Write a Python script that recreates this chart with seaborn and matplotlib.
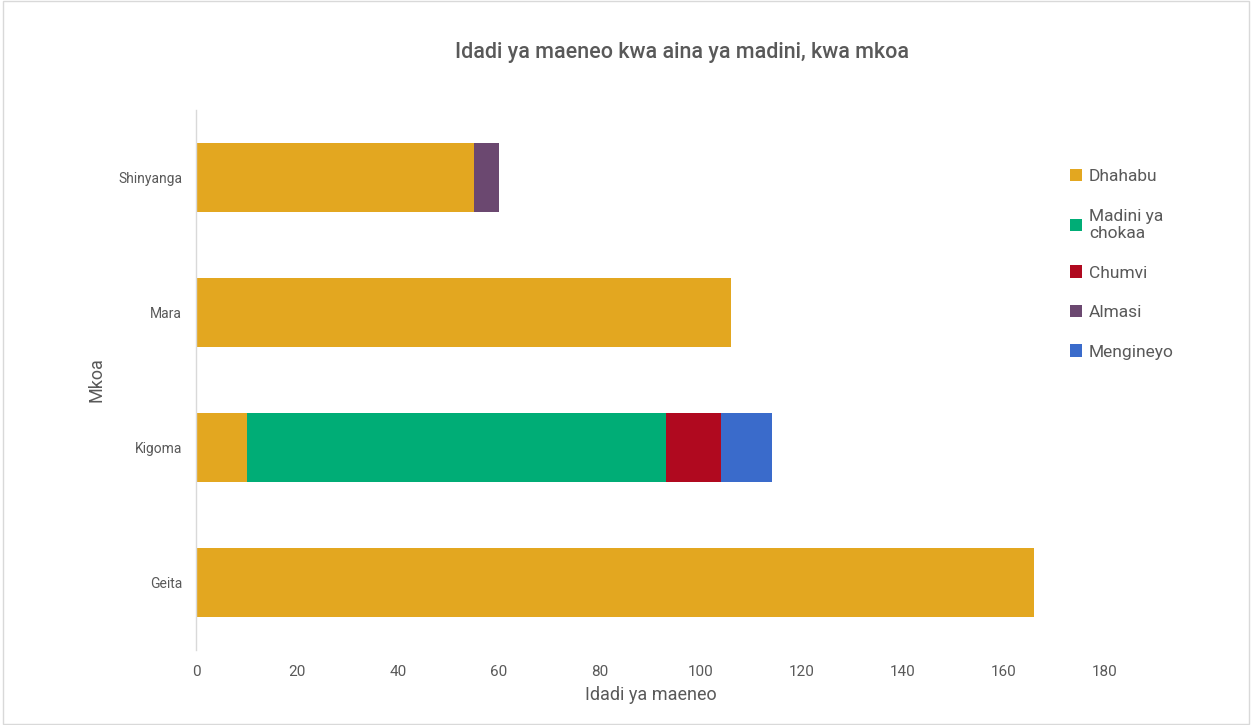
import matplotlib
matplotlib.use("Agg")
import matplotlib.pyplot as plt
import seaborn as sns
import pandas as pd
import numpy as np
from matplotlib.patches import Patch

regions = ["Shinyanga", "Mara", "Kigoma", "Geita"]
series = ["Dhahabu", "Madini ya chokaa", "Chumvi", "Almasi", "Mengineyo"]
dhahabu = [55, 106, 10, 166]
madini_ya_chokaa = [0, 0, 83, 0]
chumvi = [0, 0, 11, 0]
almasi = [5, 0, 0, 0]
mengineyo = [0, 0, 10, 0]
colors = ["#E3A720", "#00AD76", "#B0091F", "#6B4870", "#3A6BCB"]
xticks = [0, 20, 40, 60, 80, 100, 120, 140, 160, 180]

sns.set_theme(style="white")
plt.rcParams["font.family"] = ["Roboto", "DejaVu Sans"]

values = [dhahabu, madini_ya_chokaa, chumvi, almasi, mengineyo]
cum = np.cumsum(np.array(values, dtype=float), axis=0)

fig = plt.figure(figsize=(12.52, 7.25), dpi=100)
ax = fig.add_axes([0.1566, 0.1034, 0.726, 0.7449])

for i in range(len(series) - 1, -1, -1):
    df = pd.DataFrame({"Mkoa": regions, "val": cum[i]})
    sns.barplot(data=df, y="Mkoa", x="val", order=regions, color=colors[i],
                width=0.51, saturation=1, ax=ax, orient="h", linewidth=0)

ax.set_xlim(0, 180)
ax.set_ylim(3.5, -0.5)
ax.set_xticks(xticks)
ax.set_xticklabels([str(t) for t in xticks], color="#595959", fontsize=11)
ax.tick_params(axis="y", labelsize=10, labelcolor="#595959", length=0, pad=10)
ax.tick_params(axis="x", length=0, pad=11)
ax.set_xlabel("Idadi ya maeneo", fontsize=13, color="#595959", labelpad=5)
ax.set_ylabel("Mkoa", fontsize=13, color="#595959")
ax.yaxis.set_label_coords(-0.1, 0.5)
for s in ["top", "right", "bottom"]:
    ax.spines[s].set_visible(False)
ax.spines["left"].set_color("#D9D9D9")
ax.spines["left"].set_linewidth(1)

fig.text(0.545, 0.928, "Idadi ya maeneo kwa aina ya madini, kwa mkoa",
         ha="center", va="center", fontsize=15.5, fontweight="medium", color="#595959")

labels = ["Dhahabu", "Madini ya\nchokaa", "Chumvi", "Almasi", "Mengineyo"]
handles = [Patch(facecolor=c, edgecolor="none") for c in colors]
leg = fig.legend(handles, labels, loc="upper left", bbox_to_anchor=(0.842, 0.788),
                 frameon=False, fontsize=12.5, labelcolor="#595959",
                 handlelength=0.7, handleheight=0.7, handletextpad=0.4,
                 labelspacing=1.4)

fig.patches.append(plt.Rectangle((0.002, 0.002), 0.996, 0.996, transform=fig.transFigure,
                                 fill=False, edgecolor="#D9D9D9", linewidth=1))

fig.savefig("out.png", dpi=100)
